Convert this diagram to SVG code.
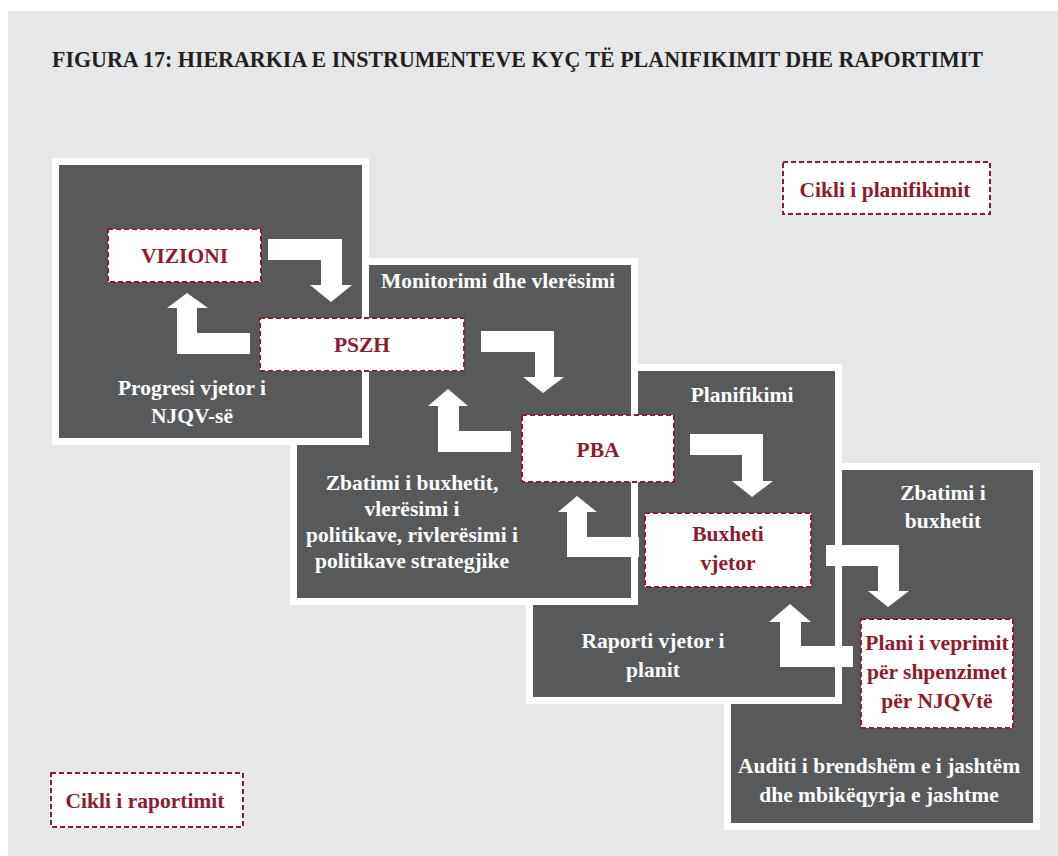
<svg xmlns="http://www.w3.org/2000/svg" width="1058" height="856" viewBox="0 0 1058 856">
  <defs>
    <style>
      .panel { fill: #58595B; stroke: #FFFFFF; stroke-width: 7; }
      .node { fill: #FFFFFF; stroke: #8E1B30; stroke-width: 2; stroke-dasharray: 5 3; }
      .arrow { fill: #FFFFFF; stroke: none; }
      .lbl { font-family: "Liberation Serif", "DejaVu Serif", serif; font-weight: bold; text-anchor: middle; }
      .w { fill: #FFFFFF; font-size: 21.5px; }
      .r { fill: #8E1B30; font-size: 21.5px; }
      .title { font-family: "Liberation Serif", "DejaVu Serif", serif; font-weight: bold; font-size: 23px; fill: #231F20; }
    </style>
  </defs>

  <rect x="0" y="0" width="1058" height="856" fill="#FFFFFF"/>
  <rect x="8" y="11" width="1050" height="845" fill="#E6E7E8"/>

  <text class="title" x="52" y="67" textLength="931" lengthAdjust="spacingAndGlyphs">FIGURA 17: HIERARKIA E INSTRUMENTEVE KYÇ TË PLANIFIKIMIT DHE RAPORTIMIT</text>

  <!-- stacked panels, back to front -->
  <g id="panel-audit">
    <rect class="panel" x="727.5" y="466.5" width="309" height="360"/>
    <text class="lbl w" x="943" y="500">Zbatimi i</text>
    <text class="lbl w" x="943" y="528">buxhetit</text>
    <text class="lbl w" x="879" y="773">Auditi i brendshëm e i jashtëm</text>
    <text class="lbl w" x="879" y="802">dhe mbikëqyrja e jashtme</text>
  </g>
  <g id="panel-planning">
    <rect class="panel" x="529.5" y="367.5" width="309" height="333"/>
    <text class="lbl w" x="742" y="402">Planifikimi</text>
    <text class="lbl w" x="653" y="648">Raporti vjetor i</text>
    <text class="lbl w" x="653" y="677">planit</text>
  </g>
  <g id="panel-monitoring">
    <rect class="panel" x="293.5" y="261.5" width="341" height="340"/>
    <text class="lbl w" x="498" y="288">Monitorimi dhe vlerësimi</text>
    <text class="lbl w" x="412" y="490">Zbatimi i buxhetit,</text>
    <text class="lbl w" x="412" y="516">vlerësimi i</text>
    <text class="lbl w" x="412" y="542">politikave, rivlerësimi i</text>
    <text class="lbl w" x="412" y="568">politikave strategjike</text>
  </g>
  <g id="panel-vision">
    <rect class="panel" x="55.5" y="161.5" width="310" height="280"/>
    <text class="lbl w" x="192" y="395">Progresi vjetor i</text>
    <text class="lbl w" x="192" y="423">NJQV-së</text>
  </g>

  <!-- connectors -->
  <g id="connectors">
    <polygon class="arrow" points="268,239 342,239 342,285 352,285 331,302 310,285 321,285 321,260 268,260"/>
    <polygon class="arrow" points="250,333 197,333 197,308 208,308 187,293 167,308 177,308 177,354 250,354"/>
    <polygon class="arrow" points="481,331 554,331 554,377 564,377 543,393 523,377 535,377 535,352 481,352"/>
    <polygon class="arrow" points="511,431 459,431 459,406 468,406 448,389 428,406 438,406 438,452 511,452"/>
    <polygon class="arrow" points="690,434 763,434 763,481 773,481 752,497 732,481 742,481 742,455 690,455"/>
    <polygon class="arrow" points="639,537 587,537 587,512 597,512 577,496 558,512 567,512 567,557 639,557"/>
    <polygon class="arrow" points="826,545 899,545 899,591 909,591 888,607 868,591 878,591 878,566 826,566"/>
    <polygon class="arrow" points="853,646 801,646 801,622 811,622 790,604 769,622 780,622 780,667 853,667"/>
  </g>

  <!-- instruments -->
  <g id="node-vizioni">
    <rect class="node" x="108" y="229" width="153" height="53"/>
    <text class="lbl r" x="184.5" y="263">VIZIONI</text>
  </g>
  <g id="node-pszh">
    <rect class="node" x="260" y="318" width="204" height="53"/>
    <text class="lbl r" x="362" y="352">PSZH</text>
  </g>
  <g id="node-pba">
    <rect class="node" x="522" y="415" width="152" height="67"/>
    <text class="lbl r" x="598" y="457">PBA</text>
  </g>
  <g id="node-buxheti">
    <rect class="node" x="645" y="513" width="166" height="74"/>
    <text class="lbl r" x="728" y="541">Buxheti</text>
    <text class="lbl r" x="728" y="570">vjetor</text>
  </g>
  <g id="node-plani">
    <rect class="node" x="861" y="619" width="152" height="109"/>
    <text class="lbl r" x="937" y="650">Plani i veprimit</text>
    <text class="lbl r" x="937" y="679">për shpenzimet</text>
    <text class="lbl r" x="937" y="708">për NJQVtë</text>
  </g>

  <!-- legend -->
  <g id="legend-planning">
    <rect class="node" x="783" y="162" width="207" height="52"/>
    <text class="lbl r" x="885" y="197">Cikli i planifikimit</text>
  </g>
  <g id="legend-reporting">
    <rect class="node" x="51" y="773" width="192" height="54"/>
    <text class="lbl r" x="145" y="808">Cikli i raportimit</text>
  </g>
</svg>
